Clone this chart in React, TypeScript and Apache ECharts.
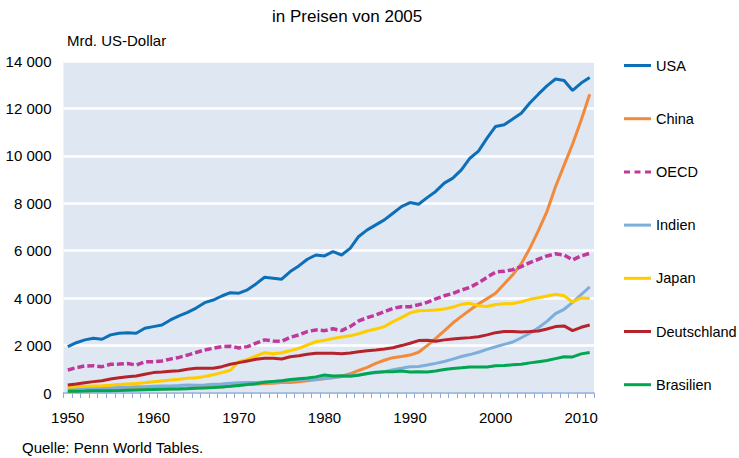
import React, { useEffect, useRef } from "react";
import * as echarts from "echarts";

const years: string[] = [];
for (let y = 1950; y <= 2011; y++) years.push(String(y));

const usa = [1954, 2120, 2240, 2310, 2265, 2450, 2520, 2545, 2520, 2730, 2800, 2870, 3080, 3250, 3400, 3580, 3810, 3920, 4090, 4230, 4210, 4350, 4600, 4880, 4840, 4800, 5120, 5360, 5640, 5820, 5780, 5960, 5820, 6100, 6600, 6880, 7090, 7300, 7580, 7860, 8030, 7960, 8240, 8500, 8850, 9060, 9410, 9900, 10200, 10750, 11240, 11310, 11550, 11800, 12230, 12600, 12950, 13240, 13180, 12760, 13070, 13300];
const china = [65, 80, 100, 115, 120, 130, 150, 160, 190, 210, 210, 165, 165, 180, 210, 240, 270, 260, 250, 290, 340, 360, 370, 400, 410, 440, 440, 470, 520, 560, 600, 640, 710, 810, 950, 1080, 1250, 1380, 1490, 1540, 1600, 1720, 2000, 2300, 2620, 2950, 3230, 3500, 3750, 3980, 4210, 4600, 4980, 5450, 6100, 6850, 7650, 8700, 9600, 10500, 11500, 12600];
const oecd = [970, 1070, 1140, 1150, 1110, 1210, 1220, 1240, 1180, 1320, 1320, 1350, 1430, 1500, 1600, 1710, 1815, 1885, 1955, 1970, 1900, 1955, 2100, 2240, 2195, 2180, 2350, 2450, 2590, 2660, 2630, 2710, 2630, 2800, 3040, 3180, 3290, 3430, 3570, 3640, 3640, 3720, 3820, 3970, 4100, 4200, 4340, 4450, 4650, 4880, 5100, 5130, 5200, 5330, 5500, 5640, 5780, 5870, 5820, 5610, 5780, 5890];
const indien = [190, 195, 200, 215, 220, 225, 240, 240, 260, 265, 280, 290, 300, 315, 340, 330, 340, 370, 380, 410, 430, 440, 440, 460, 470, 510, 520, 560, 590, 560, 620, 660, 690, 740, 770, 810, 850, 900, 980, 1040, 1110, 1120, 1180, 1250, 1330, 1430, 1540, 1620, 1720, 1840, 1950, 2050, 2150, 2330, 2520, 2750, 3020, 3350, 3530, 3820, 4150, 4470];
const japan = [240, 260, 280, 300, 310, 330, 355, 380, 400, 430, 470, 510, 545, 580, 620, 640, 700, 770, 860, 960, 1320, 1420, 1560, 1700, 1660, 1700, 1785, 1885, 2025, 2165, 2220, 2300, 2360, 2410, 2500, 2615, 2700, 2800, 3010, 3180, 3380, 3470, 3480, 3500, 3540, 3620, 3740, 3780, 3680, 3650, 3730, 3760, 3770, 3850, 3950, 4020, 4090, 4160, 4100, 3840, 4010, 3980];
const deutschland = [340, 380, 435, 480, 520, 590, 645, 690, 717, 790, 860, 885, 915, 940, 1000, 1040, 1045, 1040, 1110, 1210, 1280, 1350, 1420, 1465, 1465, 1435, 1530, 1575, 1630, 1675, 1675, 1675, 1660, 1690, 1740, 1785, 1815, 1860, 1910, 2000, 2100, 2210, 2220, 2180, 2240, 2280, 2310, 2335, 2375, 2450, 2545, 2590, 2590, 2570, 2590, 2615, 2700, 2800, 2830, 2630, 2770, 2870];
const brasilien = [70, 75, 80, 90, 95, 100, 105, 115, 125, 135, 145, 155, 165, 170, 180, 200, 215, 230, 255, 280, 320, 355, 395, 450, 490, 520, 570, 600, 630, 680, 760, 720, 730, 710, 750, 820, 880, 900, 900, 930, 890, 900, 890, 930, 990, 1030, 1060, 1100, 1100, 1100, 1150, 1160, 1190, 1210, 1270, 1320, 1370, 1450, 1530, 1520, 1650, 1710];

const seriesNames = ["USA", "China", "OECD", "Indien", "Japan", "Deutschland", "Brasilien"];
const seriesData = [usa, china, oecd, indien, japan, deutschland, brasilien];
const seriesColors = ["#0d6fb8", "#f28a3c", "#c0389a", "#7eaedb", "#ffcc00", "#b5232b", "#00a651"];

const titleText = "in Preisen von 2005";
const unitText = "Mrd. US-Dollar";
const sourceText = "Quelle: Penn World Tables.";

const FONT = "'Liberation Sans', Arial, Helvetica, sans-serif";
const SOLID_ICON = "path://M0,0h27v3h-27z";
const DASH_ICON = "path://M0,0h6v3h-6z M10.5,0h6v3h-6z M21,0h6v3h-6z";

export default function App() {
  const ref = useRef<HTMLDivElement>(null);
  useEffect(() => {
    if (!ref.current) return;
    const chart = echarts.init(ref.current, null, { renderer: "svg" });
    chart.setOption({
      animation: false,
      textStyle: { fontFamily: FONT },
      grid: {
        left: 63.5,
        right: 145,
        top: 61,
        bottom: 65,
        show: true,
        backgroundColor: "#dfe7f3",
        borderWidth: 0,
      },
      legend: {
        orient: "vertical",
        left: 624,
        top: 58,
        padding: 0,
        itemWidth: 27,
        itemHeight: 3,
        itemGap: 38.2,
        textStyle: { fontSize: 14.5, color: "#000", fontFamily: FONT },
        data: seriesNames.map((name) => ({
          name,
          icon: name === "OECD" ? DASH_ICON : SOLID_ICON,
          itemStyle: { color: seriesColors[seriesNames.indexOf(name)] },
        })),
      },
      xAxis: {
        type: "category",
        data: years,
        boundaryGap: true,
        axisLine: { lineStyle: { color: "#8eaadb", width: 1.5 } },
        axisTick: { show: true, interval: 0, length: 5, lineStyle: { color: "#8eaadb" } },
        axisLabel: { interval: 9, fontSize: 15, color: "#000", margin: 17, fontFamily: FONT },
        splitLine: { show: false },
      },
      yAxis: {
        type: "value",
        min: 0,
        max: 14000,
        interval: 2000,
        axisLine: { show: false },
        axisTick: { show: false },
        axisLabel: {
          fontSize: 15,
          color: "#000",
          margin: 12,
          fontFamily: FONT,
          formatter: (v: number) => {
            const s = String(v);
            return s.length > 3 ? s.slice(0, s.length - 3) + " " + s.slice(-3) : s;
          },
        },
        splitLine: { show: true, lineStyle: { color: "#ffffff", width: 2.5 } },
      },
      series: seriesNames.map((name, i) => ({
        name,
        type: "line",
        data: seriesData[i],
        symbol: "none",
        color: seriesColors[i],
        lineStyle: {
          color: seriesColors[i],
          width: name === "OECD" ? 3.5 : 3,
          type: name === "OECD" ? [7, 3] : "solid",
        },
      })),
      graphic: [
        {
          type: "text",
          left: 272,
          top: 8,
          style: { text: titleText, fontSize: 17, fill: "#000", fontFamily: FONT },
        },
        {
          type: "text",
          left: 67,
          top: 33,
          style: { text: unitText, fontSize: 15, fill: "#000", fontFamily: FONT },
        },
        {
          type: "text",
          left: 22,
          top: 440,
          style: { text: sourceText, fontSize: 15, fill: "#000", fontFamily: FONT },
        },
      ],
    });
    return () => chart.dispose();
  }, []);
  return (
    <div
      ref={ref}
      style={{ position: "fixed", left: 0, top: 0, width: 739, height: 458, background: "#fff" }}
    />
  );
}
